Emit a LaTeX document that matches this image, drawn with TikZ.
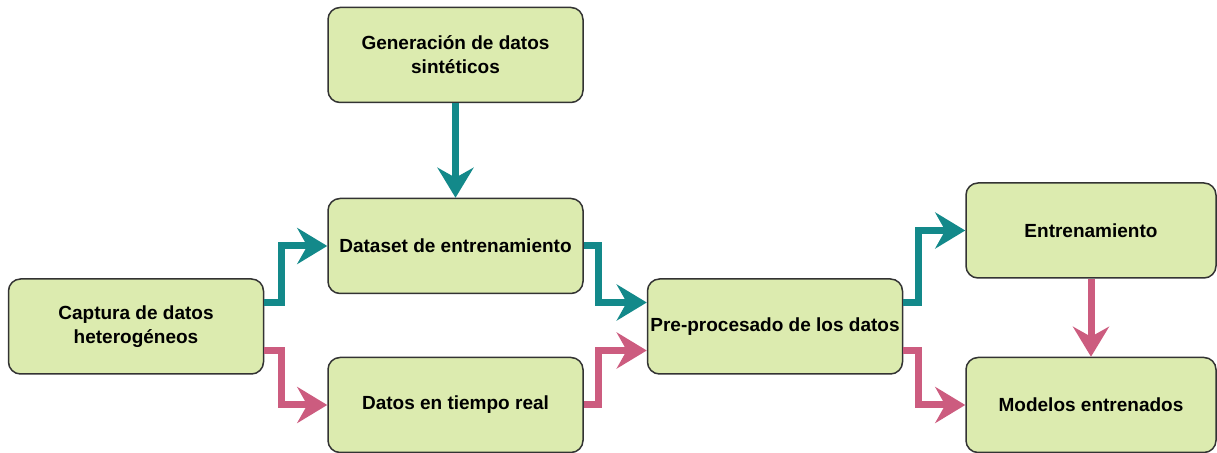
\documentclass[tikz,border=0pt]{standalone}
\usepackage{fontspec}
\setmainfont{Liberation Sans}
\usepackage{tikz}
\usetikzlibrary{calc}
\usetikzlibrary{arrows.meta}
\definecolor{boxfill}{HTML}{DCEBAF}
\definecolor{flowteal}{HTML}{13898A}
\definecolor{flowpink}{HTML}{CC5C7F}

\begin{document}
\begin{tikzpicture}[%
    x=0.5pt, y=-0.5pt,
    block/.style={
      rectangle,
      rounded corners=6pt,
      draw=black!80,
      line width=0.75pt,
      fill=boxfill,
      font=\bfseries\fontsize{9.5}{12}\selectfont,
      inner sep=0pt,
      align=center,
      minimum width=127.5pt,
      minimum height=47.5pt
    },
    narrow/.style={minimum width=125pt},
    train/.style={->, draw=flowteal, line width=3.5pt},
    live/.style={->, draw=flowpink, line width=3.5pt},
    >={Stealth[length=15pt,width=18pt,inset=5pt]}
    ]
    \useasboundingbox (0,0) rectangle (1217,453);

    \draw (455.5,55) node[block] (gen) {Generación de datos\\sintéticos};
    \draw (455.5,246) node[block] (dset) {Dataset de entrenamiento};
    \draw (136,326.5) node[block] (cap) {Captura de datos\\heterogéneos};
    \draw (455.5,405) node[block] (real) {Datos en tiempo real};
    \draw (775,326.5) node[block] (pre) {Pre-procesado de los datos};
    \draw (1091,230.5) node[block,narrow] (ent) {Entrenamiento};
    \draw (1091,405) node[block,narrow] (mod) {Modelos entrenados};

    \draw [train] (gen) -- (dset);
    \draw [train] ([yshift=12pt]cap.east) -- ++(17,0) |- (dset);
    \draw [live] ([yshift=-12pt]cap.east) -- ++(17,0) |- (real);
    \draw [train] (dset.east) -- ++(15,0) |- ([yshift=12pt]pre.west);
    \draw [live] (real.east) -- ++(15,0) |- ([yshift=-12pt]pre.west);
    \draw [train] ([yshift=12pt]pre.east) -- ++(15,0) |- (ent);
    \draw [live] ([yshift=-12pt]pre.east) -- ++(15,0) |- (mod);
    \draw [live] (ent) -- (mod);
  \end{tikzpicture}
\end{document}
